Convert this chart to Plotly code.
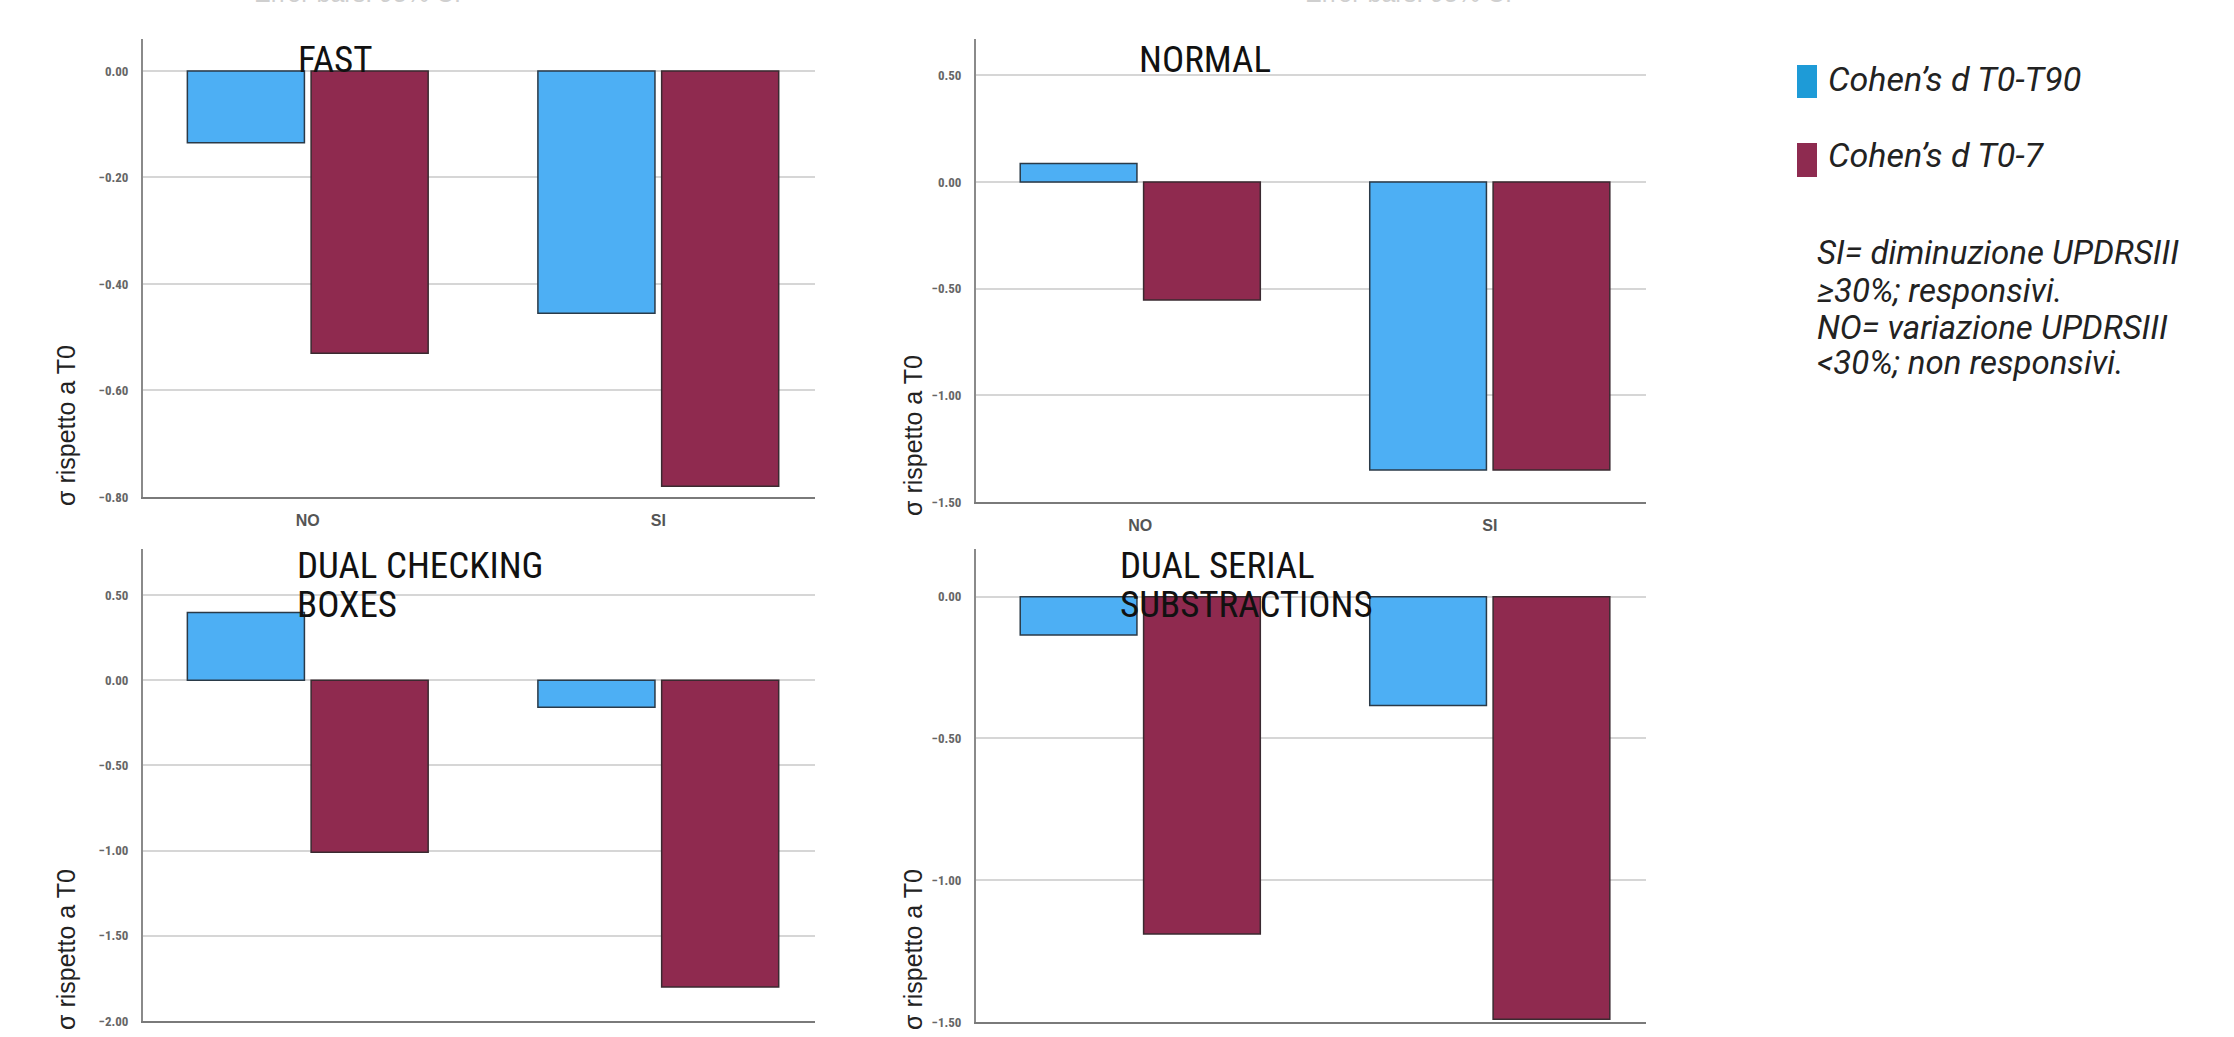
import plotly.graph_objects as go

# ---------------- data ----------------
categories = ["NO", "SI"]

fast_t90 = [-0.135, -0.455]
fast_t7 = [-0.53, -0.78]

normal_t90 = [0.087, -1.35]
normal_t7 = [-0.553, -1.35]

dcb_t90 = [0.397, -0.158]
dcb_t7 = [-1.01, -1.80]

dss_t90 = [-0.135, -0.384]
dss_t7 = [-1.19, -1.49]

series_names = ["Cohen’s d T0-T90", "Cohen’s d T0-7"]
panel_titles = [["FAST"], ["NORMAL"], ["DUAL CHECKING", "BOXES"], ["DUAL SERIAL", "SUBSTRACTIONS"]]
y_title = "σ rispetto a T0"
note_lines = ["SI= diminuzione UPDRSIII", "≥30%; responsivi.",
              "NO= variazione UPDRSIII", "<30%; non responsivi."]

# ---------------- style ----------------
W, H = 2234, 1037
BLUE = "#4DAFF4"
RED = "#8F2A4F"
LEG_BLUE = "#1E9BD7"
LEG_RED = "#8E2B50"
NARROW = "Liberation Sans Narrow, Arial Narrow, Roboto Condensed, sans-serif"


def px(x):
    return x / W


def py(y):
    return 1 - y / H


panels = [
    dict(t90=fast_t90, t7=fast_t7, xd=[143, 815], yd=[39, 497], yr=[-0.80, 0.06], dt=0.2),
    dict(t90=normal_t90, t7=normal_t7, xd=[976, 1646], yd=[39, 502], yr=[-1.5, 0.67], dt=0.5),
    dict(t90=dcb_t90, t7=dcb_t7, xd=[143, 815], yd=[549, 1021], yr=[-2.0, 0.77], dt=0.5),
    dict(t90=dss_t90, t7=dss_t7, xd=[976, 1646], yd=[549, 1022], yr=[-1.5, 0.168], dt=0.5),
]

fig = go.Figure()
layout = dict(
    width=W, height=H,
    margin=dict(l=0, r=0, t=0, b=0, autoexpand=False),
    paper_bgcolor="white", plot_bgcolor="white",
    barmode="group", bargap=0.294, bargroupgap=0.054,
    showlegend=False,
)

for i, p in enumerate(panels):
    n = "" if i == 0 else str(i + 1)
    xa, ya = "x" + n, "y" + n
    fig.add_trace(go.Bar(x=categories, y=p["t90"], name=series_names[0], xaxis=xa, yaxis=ya,
                         marker=dict(color=BLUE, line=dict(color="#2a3a48", width=1.5))))
    fig.add_trace(go.Bar(x=categories, y=p["t7"], name=series_names[1], xaxis=xa, yaxis=ya,
                         marker=dict(color=RED, line=dict(color="#3a2a30", width=1.5))))
    layout["xaxis" + n] = dict(
        domain=[px(p["xd"][0]), px(p["xd"][1])], anchor=ya, range=[-0.47, 1.447],
        automargin=False,
        showline=True, linecolor="#7a7a7a", linewidth=2, showgrid=False, ticks="",
        tickfont=dict(family="Liberation Sans, Arial, sans-serif", size=16, color="#555555",
                      weight="bold"),
        ticklabelstandoff=8, fixedrange=True,
    )
    layout["yaxis" + n] = dict(
        domain=[py(p["yd"][1]), py(p["yd"][0])], anchor=xa, range=p["yr"],
        automargin=False,
        dtick=p["dt"], tick0=0, tickformat=".2f",
        showline=True, linecolor="#8a8a8a", linewidth=2,
        showgrid=True, gridcolor="#d6d6d6", gridwidth=2, zeroline=False, ticks="",
        tickfont=dict(family=NARROW, size=13, color="#666666", weight="bold"),
        ticklabelstandoff=10, fixedrange=True,
    )

fig.update_layout(**layout)

annotations = []
# panel titles
title_pos = [(296, [59]), (1137, [60]), (295, [565, 604]), (1118, [565, 604])]
for lines, (x0, ys) in zip(panel_titles, title_pos):
    for txt, yc in zip(lines, ys):
        annotations.append(dict(text=txt, x=px(x0), y=py(yc), xref="paper", yref="paper",
                                xanchor="left", yanchor="middle", showarrow=False,
                                font=dict(family=NARROW, size=37, color="#111111")))
# y axis titles
for (xc, yc) in [(66, 426), (913, 436), (66, 950), (913, 950)]:
    annotations.append(dict(text=y_title, x=px(xc), y=py(yc), xref="paper", yref="paper",
                            xanchor="center", yanchor="middle", textangle=-90, showarrow=False,
                            font=dict(family="Liberation Sans, Arial, sans-serif", size=25, color="#222222")))
# faint error-bar captions cut at top
for xc in [357, 1408]:
    annotations.append(dict(text="Error bars: 95% CI", x=px(xc), y=py(9), xref="paper", yref="paper",
                            xanchor="center", yanchor="bottom", showarrow=False,
                            font=dict(family="Liberation Sans, Arial, sans-serif", size=25, color="#cfcfcf")))
# legend texts
for txt, yc in zip(series_names, [79, 155]):
    annotations.append(dict(text="<i>" + txt + "</i>", x=px(1826), y=py(yc), xref="paper", yref="paper",
                            xanchor="left", yanchor="middle", showarrow=False,
                            font=dict(family="Roboto, sans-serif", size=34, color="#222222")))
# note lines
for txt, yc in zip(note_lines, [252, 290, 327, 363]):
    annotations.append(dict(text="<i>" + txt + "</i>", x=px(1815), y=py(yc), xref="paper", yref="paper",
                            xanchor="left", yanchor="middle", showarrow=False,
                            font=dict(family="Roboto, sans-serif", size=33, color="#222222")))

shapes = [
    dict(type="rect", xref="paper", yref="paper", x0=px(1797), x1=px(1817), y0=py(98), y1=py(65),
         fillcolor=LEG_BLUE, line=dict(width=0)),
    dict(type="rect", xref="paper", yref="paper", x0=px(1797), x1=px(1817), y0=py(177), y1=py(143),
         fillcolor=LEG_RED, line=dict(width=0)),
]

fig.update_layout(annotations=annotations, shapes=shapes)
fig.write_html("out.html", config={"displayModeBar": False},
               post_script="document.body.style.margin='0px';document.body.style.overflow='hidden';")
